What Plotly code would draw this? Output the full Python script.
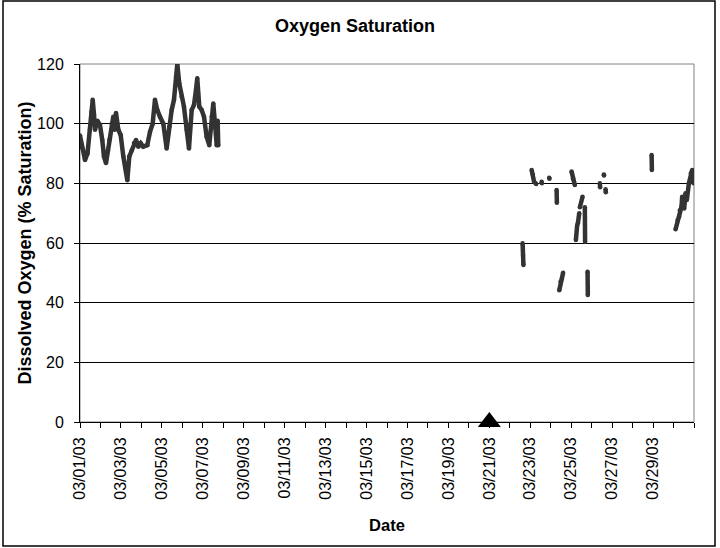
import pandas as pd
import plotly.graph_objects as go

# ---- data ----
start_date = "2003-03-01"
axis_end_date = "2003-03-31"

# continuous record, hours after 03/01/03 00:00 and % saturation
main_hours = [0, 2.3, 5.9, 8.8, 11.7, 13.5, 14.9, 16.4, 17.6, 20.3, 23.4, 26.1, 28.1, 30.5,
              32.8, 34.4, 37.2, 39, 40.5, 42.2, 44.9, 47.7, 50.8, 53.9, 55.5, 57.8, 60.6,
              63.3, 65.7, 68.4, 71.2, 74.2, 78.9, 82.1, 85.2, 87.9, 90.6, 93.8, 97.7,
              101.6, 104.7, 107.5, 110.2, 112.6, 114.1, 116.4, 119.2, 121.9, 125.1, 127.8,
              131, 133.7, 136, 137.5, 139.9, 142.7, 145.4, 148.5, 151.6, 154.4, 156.3,
              158.3, 160.3, 161.4, 162.1]
main_do = [96, 92, 87.8, 90, 98, 104, 108, 103, 98, 101, 99.6, 94.5, 89, 86.8,
           91, 94.5, 100, 102.3, 98, 103.6, 98, 96.2, 89, 84.5, 81, 89, 91,
           93.5, 94.5, 92.3, 93.4, 92.3, 92.8, 97.3, 100, 108, 104.6, 102.3, 100,
           91.7, 99, 104.6, 108, 115.7, 120, 113.5, 109, 105.7, 98, 91.7,
           104.6, 106.3, 111.3, 115.2, 105.7, 104.6, 102.3, 95.6, 92.8, 102.3, 106.8,
           100, 92.8, 101, 92.8]

# broken record later in the month (None = gap in the record)
later_hours = [519, 519.5, 520, None,
               529.6, 531, 532.5, 535, None,
               541.3, 541.6, None,
               550.2, 550.5, None,
               558.9, 559.2, None,
               562, 563.5, 565, 566.5, None,
               576.4, 578, 580.3, None,
               581.5, 583, None,
               583.8, 585.4, None,
               586.2, 589.3, None,
               592, 592.3, None,
               595.2, 595.5, None,
               609.6, 609.9, None,
               614.3, 614.5, None,
               616.3, 616.6, None,
               670.3, 670.6, None,
               698.4, 700.8, 702.6, 703.4, 705.4, 706.1, 708.5, 710.1, 711.6, 714,
               716.3, 717.9, 719.5]
later_do = [59.9, 56, 52.6, None,
            84.5, 83, 80.5, 79.8, None,
            80.5, 80.0, None,
            81.9, 81.5, None,
            77.8, 73.5, None,
            44.2, 47, 48, 50, None,
            84, 81.5, 79.4, None,
            61, 66, None,
            66.5, 70, None,
            72, 75.5, None,
            72, 60.4, None,
            50.4, 42.6, None,
            80, 78.7, None,
            83, 82.6, None,
            78, 77, None,
            89.5, 84.5, None,
            64.6, 67.7, 68.8, 71, 72.2, 75.5, 71.6, 76.7, 74.4, 80,
            83.4, 84.5, 80]

event_date = "2003-03-21"
event_value = 0

y_ticks = [0, 20, 40, 60, 80, 100, 120]

# ---- build ----
base = pd.Timestamp(start_date)


def to_time(hours):
    return [None if h is None else base + pd.Timedelta(hours=h) for h in hours]


days = pd.date_range(start_date, axis_end_date, freq="D")
tick_text = [d.strftime("%m/%d/%y") if (i % 2 == 0 and i < len(days) - 1) else ""
             for i, d in enumerate(days)]

FONT = "Liberation Sans, Arial, sans-serif"
LINE_COLOR = "#333333"

fig = go.Figure()
for hrs, vals in [(main_hours, main_do), (later_hours, later_do)]:
    fig.add_trace(go.Scatter(
        x=to_time(hrs), y=vals, mode="lines+markers",
        line=dict(color=LINE_COLOR, width=4.5),
        marker=dict(size=4.5, color=LINE_COLOR),
        connectgaps=False, hoverinfo="x+y"))

fig.add_trace(go.Scatter(
    x=[pd.Timestamp(event_date)], y=[event_value], mode="markers",
    marker=dict(symbol="triangle-up", size=20, color="black"),
    cliponaxis=False))

fig.update_layout(
    width=720, height=548,
    margin=dict(l=80, r=26, t=64, b=126),
    paper_bgcolor="white", plot_bgcolor="white",
    showlegend=False,
    font=dict(family=FONT, size=16, color="black"),
    title=dict(text="<b>Oxygen Saturation</b>", x=355 / 720, xanchor="center",
               y=1 - 26 / 548, yanchor="middle", yref="container",
               font=dict(family=FONT, size=18, color="black")),
    xaxis=dict(
        type="date", range=[days[0], days[-1]], automargin=False,
        tickvals=list(days), ticktext=tick_text, tickangle=-90,
        ticks="outside", ticklen=5, tickcolor="black", tickwidth=1,
        ticklabelstandoff=3,
        showline=True, linecolor="black", linewidth=1,
        showgrid=False, zeroline=False,
        tickfont=dict(family=FONT, size=16, color="black"),
        title=dict(text="<b>Date</b>", standoff=20,
                   font=dict(family=FONT, size=16.5, color="black")),
    ),
    yaxis=dict(
        range=[0, 120], tickvals=y_ticks, automargin=False,
        ticks="outside", ticklen=5, tickcolor="black", tickwidth=1,
        ticklabelstandoff=7,
        showline=True, linecolor="black", linewidth=1,
        showgrid=True, gridcolor="black", gridwidth=1, zeroline=False,
        tickfont=dict(family=FONT, size=16, color="black"),
        title=dict(text="<b>Dissolved Oxygen (% Saturation)</b>", standoff=0,
                   font=dict(family=FONT, size=18, color="black")),
    ),
    shapes=[
        dict(type="rect", xref="paper", yref="paper", x0=0, x1=1, y0=0, y1=1,
             line=dict(color="#808080", width=1), layer="below"),
        dict(type="rect", xref="paper", yref="paper",
             x0=(3 - 80) / 614, x1=(715 - 80) / 614,
             y0=(422 - 546) / 358, y1=(422 - 1) / 358,
             line=dict(color="black", width=1.5), layer="below"),
    ],
)

fig.write_html("out.html",
               config={"displayModeBar": False},
               post_script="document.body.style.margin='0';"
                           "document.body.style.overflow='hidden';")
